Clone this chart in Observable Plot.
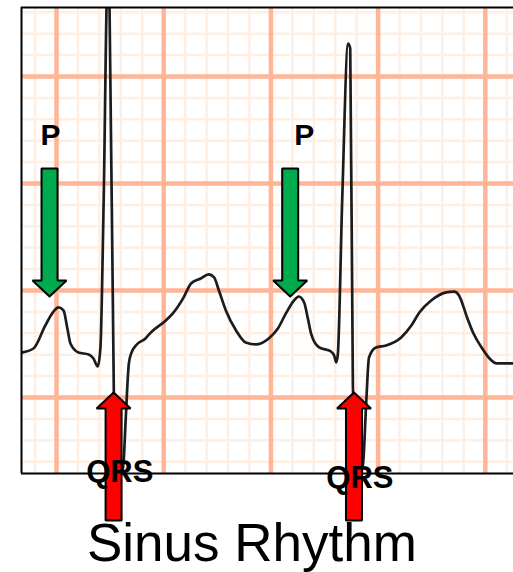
<!DOCTYPE html>
<html><head><meta charset="utf-8">
<script src="https://cdn.jsdelivr.net/npm/d3@7"></script>
<script src="https://cdn.jsdelivr.net/npm/@observablehq/plot@0.6"></script>
<style>html,body{margin:0;padding:0;background:#fff;} svg{display:block;}</style>
</head><body><div id="chart"></div>
<script>
// ECG trace: time (s) and voltage (mV)
const traceTime = [0.335,0.357,0.379,0.393,0.404,0.413,0.421,0.426,0.441,0.460,0.469,0.477,0.482,0.488,0.495,0.499,0.507,0.514,0.520,0.525,0.529,0.535,0.540,0.548,0.566,0.576,0.604,0.617,0.637,0.651,0.669,0.684,0.694,0.703,0.716,0.735,0.753,0.772,0.796,0.813,0.828,0.843,0.852,0.862,0.869,0.875,0.890,0.912,0.918,0.922,0.925,0.933,0.944,0.948,0.953,0.961,0.966,0.972,0.978,0.983,0.996,1.015,1.043,1.062,1.077,1.099,1.127,1.142,1.151,1.166,1.178,1.193,1.208,1.221,1.254];
const traceMv = [-0.290,-0.271,-0.164,-0.103,-0.079,-0.093,-0.187,-0.248,-0.290,-0.299,-0.318,-0.355,-0.266,0.421,1.425,1.308,-0.481,-0.794,-0.879,-0.808,-0.607,-0.341,-0.290,-0.257,-0.224,-0.196,-0.140,-0.107,-0.033,0.033,0.056,0.075,0.061,0.000,-0.093,-0.187,-0.243,-0.252,-0.224,-0.178,-0.107,-0.047,-0.028,-0.056,-0.131,-0.201,-0.266,-0.285,-0.304,-0.336,-0.294,0.421,1.154,1.131,-0.453,-0.771,-0.869,-0.808,-0.514,-0.313,-0.266,-0.257,-0.220,-0.164,-0.103,-0.047,-0.009,-0.005,-0.023,-0.126,-0.201,-0.266,-0.318,-0.341,-0.341];

// ECG paper grid
const majorTimeTicks = [0.4, 0.6, 0.8, 1.0, 1.2];
const majorMvTicks = [-0.5, 0, 0.5, 1.0];
const minorTimeTicks = [0.36,0.44,0.48,0.52,0.56,0.64,0.68,0.72,0.76,0.84,0.88,0.92,0.96,1.04,1.08,1.12,1.16,1.24];
const minorMvTicks = [-0.8,-0.7,-0.6,-0.4,-0.3,-0.2,-0.1,0.1,0.2,0.3,0.4,0.6,0.7,0.8,0.9,1.1,1.2,1.3];

// Annotation arrows
const arrowTime = [0.387, 0.836, 0.5065, 0.955];
const arrowTipMv = [-0.028, -0.028, -0.477, -0.477];
const arrowTailMv = [0.570, 0.570, -1.075, -1.075];
const arrowColor = ["#00AA4E", "#00AA4E", "#FF0000", "#FF0000"];

// Labels
const labelText = ["P", "P", "QRS", "QRS"];
const labelTime = [0.389, 0.862, 0.518, 0.966];
const labelMv = [0.678, 0.678, -0.893, -0.921];
const labelSize = [30, 30, 31, 31];
const titleText = "Sinus Rhythm";
const titleTime = 0.7645;
const titleMv = -1.262;

// scale set-up
const W = 513, H = 572;
const mTop = 7, mLeft = 21, mRight = 0, mBottom = 99;
const pxPerSec = 536, pxPerMv = 214;
const xDomain = [0.3347, 0.3347 + (W - mLeft - mRight) / pxPerSec];
const yDomain = [1.3224 - (H - mTop - mBottom) / pxPerMv, 1.3224];

const trace = traceTime.map((t, i) => ({t, v: traceMv[i]}));

// arrow polygons (sizes in px converted to data units)
const shaftHalf = 8 / pxPerSec, headHalf = 17 / pxPerSec, headLen = 16 / pxPerMv;
const arrows = arrowTime.map((t, i) => {
  const tip = arrowTipMv[i], tail = arrowTailMv[i];
  const s = Math.sign(tail - tip);
  const b = tip + s * headLen;
  return {color: arrowColor[i], pts: [
    {t, v: tip}, {t: t - headHalf, v: b}, {t: t - shaftHalf, v: b},
    {t: t - shaftHalf, v: tail}, {t: t + shaftHalf, v: tail},
    {t: t + shaftHalf, v: b}, {t: t + headHalf, v: b}, {t, v: tip}
  ]};
});
const labels = labelText.map((text, i) => ({text, t: labelTime[i], v: labelMv[i], size: labelSize[i]}));

const font = "'Liberation Sans', Arial, Helvetica, sans-serif";

const plot = Plot.plot({
  width: W, height: H,
  marginTop: mTop, marginLeft: mLeft, marginRight: mRight, marginBottom: mBottom,
  x: {domain: xDomain, axis: null},
  y: {domain: yDomain, axis: null},
  style: {background: "#fff", fontFamily: font},
  marks: [
    Plot.ruleX(minorTimeTicks, {stroke: "#FFEFE3", strokeWidth: 2.5}),
    Plot.ruleY(minorMvTicks, {stroke: "#FFEFE3", strokeWidth: 2.5}),
    Plot.ruleX(majorTimeTicks, {stroke: "#FFB596", strokeWidth: 4.5}),
    Plot.ruleY(majorMvTicks, {stroke: "#FFB596", strokeWidth: 4.5}),
    Plot.line(trace, {x: "t", y: "v", curve: "monotone-x", stroke: "#1c1c1c", strokeWidth: 2.7, strokeLinejoin: "round", clip: true}),
    Plot.ruleY([yDomain[1]], {stroke: "#000", strokeWidth: 2}),
    Plot.ruleY([yDomain[0]], {stroke: "#000", strokeWidth: 2}),
    Plot.ruleX([xDomain[0]], {stroke: "#000", strokeWidth: 2}),
    ...arrows.map(a => Plot.line(a.pts, {x: "t", y: "v", fill: a.color, stroke: "#000", strokeWidth: 2, strokeLinejoin: "miter"})),
    ...labels.map(l => Plot.text([l], {x: "t", y: "v", text: "text", fontSize: l.size, fontWeight: "bold", fill: "#000", textAnchor: "middle", lineAnchor: "bottom"})),
    Plot.text([{text: titleText, t: titleTime, v: titleMv}], {x: "t", y: "v", text: "text", fontSize: 53, fill: "#000", textAnchor: "middle", lineAnchor: "bottom"})
  ]
});
document.getElementById("chart").appendChild(plot);
</script>
</body></html>
